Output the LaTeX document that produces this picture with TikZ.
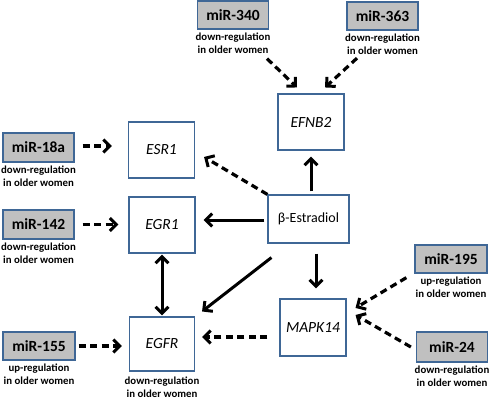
\documentclass[tikz,border=0pt]{standalone}
\usepackage{fontspec}
\setmainfont{Carlito}
\usetikzlibrary{arrows.meta,calc}
\definecolor{boxblue}{HTML}{3F6796}
\definecolor{boxgray}{HTML}{C0C0C0}
\begin{document}
\begin{tikzpicture}[x=1pt,y=-1pt,
  gene/.style={draw=boxblue,line width=1.1pt,fill=white,minimum width=66pt,minimum height=56pt,inner sep=0pt,font=\fontsize{15.5}{17}\selectfont\itshape},
  estr/.style={draw=boxblue,line width=1.1pt,fill=white,minimum width=81pt,minimum height=48pt,inner sep=0pt,font=\fontsize{14}{16}\selectfont},
  mir/.style={draw=boxblue,line width=1.3pt,fill=boxgray,minimum width=71pt,minimum height=28pt,inner sep=0pt,font=\fontsize{15.5}{17}\selectfont\bfseries},
  capt/.style={inner sep=0pt,align=center,font=\fontsize{10.8}{13.5}\selectfont\bfseries},
  dasharrow/.style={line width=3.2pt,dash pattern=on 7pt off 4.5pt,-{Straight Barb[length=6.5pt,width=13pt,line width=3pt]}},
  solidarrow/.style={line width=3pt,-{Straight Barb[length=6.5pt,width=13pt,line width=3pt]}},
  bisolid/.style={line width=3pt,{Straight Barb[length=6.5pt,width=13pt,line width=3pt]}-{Straight Barb[length=6.5pt,width=13pt,line width=3pt]}}
]
\useasboundingbox[fill=white] (0,0) rectangle (490,401);
% gene boxes
\node[gene] (esr1) at (161.5,150) {ESR1};
\node[gene] (egr1) at (162,225) {EGR1};
\node[gene,minimum height=54pt,minimum width=65pt] (egfr) at (162,344) {EGFR};
\node[gene] (efnb2) at (311,122) {EFNB2};
\node[estr] (estr) at (308.5,219) {β-Estradiol};
\node[gene,minimum height=57pt] (mapk) at (313,327.5) {MAPK14};
\node[capt,anchor=north] (egfrcap) at ($(egfr.south)+(0,5)$) {down-regulation\\in older women};
% miR boxes
\node[mir] (m340) at (233,15) {miR-340};
\node[mir] (m363) at (382.5,16) {miR-363};
\node[mir,minimum height=29pt] (m18a) at (38.5,147.5) {miR-18a};
\node[mir,minimum height=29pt] (m142) at (38.5,224.5) {miR-142};
\node[mir,minimum width=72pt] (m155) at (39,346) {miR-155};
\node[mir,minimum width=72pt] (m195) at (451,259) {miR-195};
\node[mir,minimum height=30pt] (m24) at (452,347) {miR-24};
% captions
\node[capt,anchor=north] (c340) at ($(m340.south)+(0,3)$) {down-regulation\\in older women};
\node[capt,anchor=north] (c363) at ($(m363.south)+(0,3)$) {down-regulation\\in older women};
\node[capt,anchor=north] (c18a) at ($(m18a.south)+(0,3)$) {down-regulation\\in older women};
\node[capt,anchor=north] (c142) at ($(m142.south)+(0,3)$) {down-regulation\\in older women};
\node[capt,anchor=north] (c155) at ($(m155.south)+(0,3)$) {up-regulation\\in older women};
\node[capt,anchor=north] (c195) at ($(m195.south)+(0,3)$) {up-regulation\\in older women};
\node[capt,anchor=north] (c24) at ($(m24.south)+(0,3)$) {down-regulation\\in older women};
% miRNA connectors
\draw[dasharrow] ($(m340.south)+(34,29)$) -- ($(efnb2.north)+(-14,-6)$);
\draw[dasharrow] ($(m363.south)+(-25.5,27.5)$) -- ($(efnb2.north)+(14,-6)$);
\draw[dasharrow,shorten <=8pt,shorten >=16pt] ($(m18a.east)+(0,-1.5)$) -- ($(m18a.east -| esr1.west)+(0,-1.5)$);
\draw[dasharrow,shorten <=8pt,shorten >=10pt] (m142.east) -- (m142.east -| egr1.west);
\draw[dasharrow,shorten <=3pt,shorten >=7pt] (m155.east) -- (m155.east -| egfr.west);
\draw[dasharrow] ($(m195.south west)+(-8,4)$) -- ($(mapk.east)+(9,-19.5)$);
\draw[dasharrow] ($(m24.west)+(-5,0)$) -- ($(mapk.east)+(9,-12.5)$);
% estradiol connectors
\draw[dasharrow] ($(estr.north west)+(0,0)$) -- ($(esr1.east)+(9,7)$);
\draw[solidarrow,shorten <=3pt,shorten >=6pt] (efnb2.south |- estr.north) -- (efnb2.south);
\draw[solidarrow,shorten <=3pt,shorten >=8pt] ($(estr.west)+(0,1)$) -- ($(estr.west -| egr1.east)+(0,1)$);
\draw[solidarrow] ($(estr.south west)+(4,14)$) -- ($(egfr.north east)+(7,-5)$);
\draw[solidarrow,shorten <=10pt,shorten >=10pt] ($(mapk.north |- estr.south)+(3,0)$) -- ($(mapk.north)+(3,0)$);
\draw[bisolid,shorten <=1pt,shorten >=1pt] (egr1.south) -- (egfr.north);
\draw[dasharrow] ($(mapk.west)+(-12,9.5)$) -- ($(egfr.east)+(7,-7)$);
\end{tikzpicture}
\end{document}
